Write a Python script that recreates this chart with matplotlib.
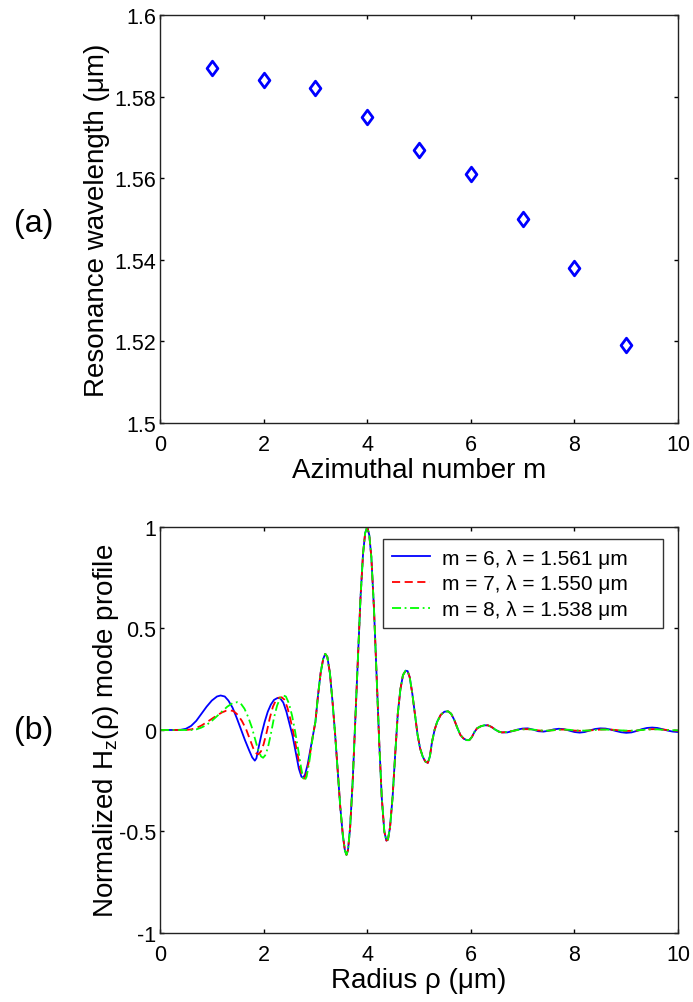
import matplotlib
matplotlib.use("Agg")
import matplotlib.pyplot as plt
import numpy as np
from matplotlib.path import Path

plt.rcParams['font.family'] = ['Liberation Sans', 'DejaVu Sans']
plt.rcParams['mathtext.fontset'] = 'custom'
plt.rcParams['mathtext.rm'] = 'Liberation Sans'
plt.rcParams['mathtext.it'] = 'Liberation Sans:italic'

# ---------------- data: panel (a) ----------------
azimuthal_m = [1, 2, 3, 4, 5, 6, 7, 8, 9]
resonance_um = [1.587, 1.584, 1.582, 1.575, 1.567, 1.561, 1.550, 1.538, 1.519]
a_xticks = [0, 2, 4, 6, 8, 10]
a_yticks = [1.50, 1.52, 1.54, 1.56, 1.58, 1.60]
a_yticklabels = ["1.5", "1.52", "1.54", "1.56", "1.58", "1.6"]

# ---------------- data: panel (b) ----------------
rho_head_m6 = [0.0, 0.3, 0.4, 0.5, 0.6, 0.7, 0.8, 0.9, 1.0, 1.1, 1.17, 1.25, 1.32, 1.40, 1.48,
               1.56, 1.64, 1.72, 1.78, 1.83, 1.86, 1.90, 1.96, 2.02, 2.08, 2.14, 2.20, 2.27,
               2.32, 2.38, 2.44, 2.50, 2.56, 2.62, 2.68, 2.73, 2.76, 2.80, 2.85, 2.90]
hz_head_m6 = [0.0, 0.0, 0.001, 0.006, 0.02, 0.045, 0.08, 0.115, 0.145, 0.165, 0.17, 0.165, 0.145,
              0.11, 0.06, 0.005, -0.05, -0.10, -0.135, -0.151, -0.14, -0.09, -0.02, 0.04, 0.09,
              0.125, 0.148, 0.158, 0.156, 0.135, 0.09, 0.03, -0.03, -0.11, -0.19, -0.23, -0.235,
              -0.22, -0.17, -0.10]

rho_head_m7 = [0.0, 0.5, 0.6, 0.7, 0.8, 0.9, 1.0, 1.1, 1.2, 1.28, 1.35, 1.42, 1.50, 1.58, 1.66,
               1.74, 1.80, 1.86, 1.90, 1.95, 2.00, 2.06, 2.12, 2.18, 2.24, 2.30, 2.35, 2.40, 2.46,
               2.52, 2.58, 2.64, 2.70, 2.74, 2.78, 2.82, 2.87, 2.92]
hz_head_m7 = [0.0, 0.0, 0.003, 0.01, 0.022, 0.038, 0.055, 0.072, 0.087, 0.095, 0.097, 0.093,
              0.075, 0.045, 0.005, -0.05, -0.09, -0.115, -0.12, -0.105, -0.07, -0.01, 0.06,
              0.115, 0.148, 0.16, 0.161, 0.15, 0.11, 0.05, -0.02, -0.10, -0.18, -0.225, -0.24,
              -0.22, -0.16, -0.08]

rho_head_m8 = [0.0, 0.6, 0.7, 0.8, 0.9, 1.0, 1.1, 1.2, 1.3, 1.4, 1.49, 1.56, 1.63, 1.70, 1.77,
               1.83, 1.89, 1.95, 1.99, 2.03, 2.08, 2.14, 2.20, 2.26, 2.32, 2.38, 2.43, 2.49,
               2.55, 2.61, 2.67, 2.72, 2.76, 2.79, 2.83, 2.88, 2.92]
hz_head_m8 = [0.0, 0.0, 0.003, 0.012, 0.025, 0.045, 0.068, 0.092, 0.115, 0.132, 0.137, 0.13,
              0.105, 0.065, 0.015, -0.04, -0.095, -0.13, -0.137, -0.125, -0.09, -0.02, 0.06,
              0.12, 0.158, 0.17, 0.165, 0.13, 0.07, -0.01, -0.10, -0.18, -0.235, -0.25, -0.23,
              -0.16, -0.09]

rho_core = [2.95, 3.00, 3.05, 3.10, 3.15, 3.19, 3.23, 3.28, 3.33, 3.38, 3.43, 3.48, 3.53, 3.57,
            3.60, 3.63, 3.67, 3.72, 3.77, 3.82, 3.87, 3.92, 3.96, 4.00, 4.04, 4.08, 4.13, 4.18,
            4.23, 4.28, 4.33, 4.37, 4.40, 4.44, 4.49, 4.54, 4.59, 4.64, 4.69, 4.74, 4.78, 4.82,
            4.87, 4.92, 4.97, 5.02, 5.07, 5.12, 5.17, 5.21, 5.25, 5.30, 5.35, 5.42, 5.49, 5.56,
            5.62, 5.68, 5.74, 5.80, 5.86, 5.92, 5.97, 6.02, 6.07, 6.12, 6.19, 6.26, 6.33, 6.40,
            6.47, 6.54, 6.60]
hz_core = [-0.03, 0.04, 0.17, 0.28, 0.35, 0.375, 0.36, 0.28, 0.14, -0.02, -0.20, -0.38, -0.52,
           -0.595, -0.615, -0.59, -0.48, -0.25, 0.05, 0.36, 0.65, 0.87, 0.97, 1.00, 0.96, 0.85,
           0.60, 0.28, -0.05, -0.33, -0.50, -0.545, -0.54, -0.48, -0.33, -0.12, 0.08, 0.20,
           0.27, 0.292, 0.29, 0.26, 0.18, 0.08, -0.02, -0.09, -0.13, -0.155, -0.162, -0.13,
           -0.06, 0.0, 0.04, 0.075, 0.09, 0.092, 0.08, 0.05, 0.01, -0.025, -0.042, -0.05, -0.05,
           -0.035, -0.01, 0.008, 0.018, 0.023, 0.023, 0.015, 0.002, -0.008, -0.012]

rho_tail = [6.7, 6.8, 6.9, 7.0, 7.1, 7.2, 7.3, 7.4, 7.5, 7.6, 7.7, 7.8, 7.9, 8.0, 8.1, 8.2, 8.3,
            8.4, 8.5, 8.6, 8.7, 8.8, 8.9, 9.0, 9.1, 9.2, 9.3, 9.4, 9.5, 9.6, 9.7, 9.8, 9.9, 10.0]
hz_tail_m6 = [-0.012, -0.006, 0.002, 0.007, 0.008, 0.002, -0.006, -0.008, -0.004, 0.003, 0.006,
              0.004, -0.003, -0.010, -0.013, -0.010, -0.002, 0.005, 0.008, 0.007, 0.002, -0.005,
              -0.011, -0.014, -0.012, -0.005, 0.004, 0.010, 0.012, 0.010, 0.004, -0.003, -0.008,
              -0.010]
hz_tail_m7 = [-0.010, -0.005, 0.0, 0.004, 0.004, 0.002, -0.002, -0.004, -0.003, -0.001, 0.002,
              0.002, 0.0, -0.003, -0.004, -0.004, -0.002, 0.0, 0.002, 0.003, 0.002, 0.0, -0.003,
              -0.005, -0.004, -0.003, 0.0, 0.003, 0.004, 0.004, 0.002, 0.0, -0.002, -0.004]
hz_tail_m8 = [-0.010, -0.005, 0.0, 0.003, 0.004, 0.002, -0.001, -0.003, -0.003, -0.001, 0.001,
              0.002, 0.001, -0.002, -0.003, -0.003, -0.002, 0.0, 0.002, 0.002, 0.001, 0.0, -0.002,
              -0.003, -0.003, -0.002, 0.0, 0.002, 0.003, 0.003, 0.001, 0.0, -0.001, -0.002]

legend_labels = ["m = 6, \u03bb = 1.561 \u03bcm",
                 "m = 7, \u03bb = 1.550 \u03bcm",
                 "m = 8, \u03bb = 1.538 \u03bcm"]
b_xticks = [0, 2, 4, 6, 8, 10]
b_yticks = [-1, -0.5, 0, 0.5, 1]
b_yticklabels = ["-1", "-0.5", "0", "0.5", "1"]

# ---------------- figure ----------------
fig = plt.figure(figsize=(6.93, 10.03), dpi=100)
ax1 = fig.add_axes([0.2309, 0.5773, 0.7475, 0.4068])
ax2 = fig.add_axes([0.2309, 0.0688, 0.7475, 0.4048])

for ax in (ax1, ax2):
    ax.tick_params(direction='in', length=3, width=1, top=True, right=True,
                   labelsize=15.5, colors='black')
    ax.tick_params(axis='y', pad=3)
    ax.tick_params(axis='x', pad=8)
    for s in ax.spines.values():
        s.set_linewidth(1.0)
        s.set_color('#222222')

# diamond marker, slightly taller than wide
diamond = Path([(0, 1), (0.74, 0), (0, -1), (-0.74, 0), (0, 1)],
               [Path.MOVETO, Path.LINETO, Path.LINETO, Path.LINETO, Path.CLOSEPOLY])
ax1.plot(azimuthal_m, resonance_um, linestyle='none', marker=diamond, markersize=10.5,
         markerfacecolor='none', markeredgecolor='#0000ff', markeredgewidth=2.0)
ax1.set_xlim(0, 10)
ax1.set_ylim(1.5, 1.6)
ax1.set_xticks(a_xticks)
ax1.set_yticks(a_yticks)
ax1.set_yticklabels(a_yticklabels)
ax1.set_xlabel("Azimuthal number m", fontsize=20, labelpad=1.5)
ax1.set_ylabel("Resonance wavelength (\u03bcm)", fontsize=20, va='center')
ax1.yaxis.set_label_coords(-0.122, 0.5)

m6_x = rho_head_m6 + rho_core + rho_tail
m6_y = hz_head_m6 + hz_core + hz_tail_m6
m7_x = rho_head_m7 + rho_core + rho_tail
m7_y = hz_head_m7 + hz_core + hz_tail_m7
m8_x = rho_head_m8 + rho_core + rho_tail
m8_y = hz_head_m8 + hz_core + hz_tail_m8

ax2.plot(m6_x, m6_y, color='#0000ff', linestyle='-', linewidth=1.3, label=legend_labels[0])
ax2.plot(m7_x, m7_y, color='#ff0000', linestyle=(0, (4.5, 2.5)), linewidth=1.3, label=legend_labels[1])
ax2.plot(m8_x, m8_y, color='#00ff00', linestyle=(0, (5, 2, 1, 2)), linewidth=1.3, label=legend_labels[2])
ax2.set_xlim(0, 10)
ax2.set_ylim(-1, 1)
ax2.set_xticks(b_xticks)
ax2.set_yticks(b_yticks)
ax2.set_yticklabels(b_yticklabels)
ax2.set_xlabel("Radius \u03c1 (\u03bcm)", fontsize=20, labelpad=1.5)
ax2.set_ylabel("Normalized H$_{\\mathrm{z}}$(\u03c1) mode profile", fontsize=20, va='center')
ax2.yaxis.set_label_coords(-0.105, 0.5)

leg = ax2.legend(loc='upper left', bbox_to_anchor=(0.4305, 0.751, 0.5405, 0.219),
                 mode='expand', borderaxespad=0,
                 fontsize=15, frameon=True, fancybox=False, edgecolor='black',
                 handlelength=1.8, handletextpad=0.6, borderpad=0.45, labelspacing=0.32)
leg.get_frame().set_linewidth(1.0)

fig.text(34 / 693, 1 - 224 / 1003, "(a)", fontsize=23, ha='center', va='center')
fig.text(34 / 693, 1 - 731 / 1003, "(b)", fontsize=23, ha='center', va='center')

fig.savefig("out.png", dpi=100, facecolor='white')
